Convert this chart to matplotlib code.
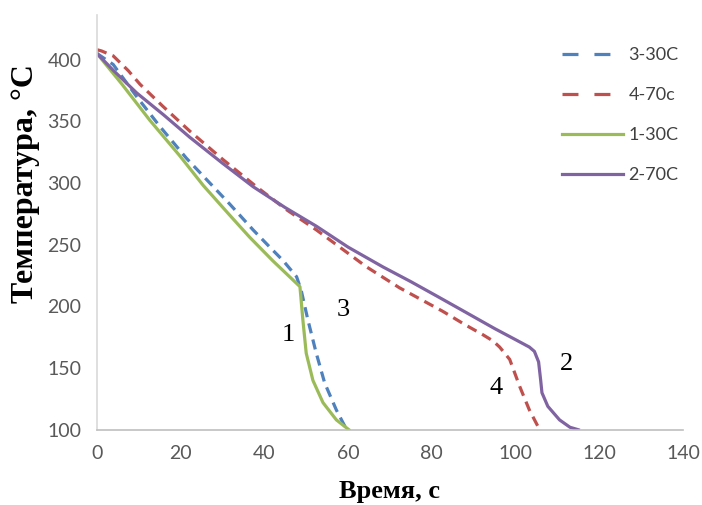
import numpy as np
import matplotlib
matplotlib.use("Agg")
import matplotlib.pyplot as plt

# curve data (time, s ; temperature, C)
t_blue = [0, 3.9, 9.5, 15, 21.4, 27.8, 31.7, 37.3, 41.3, 44.5, 47.7, 48.8, 50.4, 52.4, 54.4, 57.2, 59.2, 59.5]
T_blue = [405, 396, 370, 346, 320, 297, 283, 262, 248, 237, 224, 213, 189, 162, 138, 116, 103, 100]

t_red = [0, 1.1, 3.9, 7.5, 10.3, 15.8, 22.2, 30.1, 38.1, 45, 52.4, 58, 64.4, 72.3, 82.6, 88,
         92.2, 94.6, 96.2, 98.6, 101, 103.3, 105.3, 105.6]
T_red = [408, 407, 403, 391, 380, 362, 342, 319, 297, 279, 262, 248, 232, 215, 196, 185,
         177, 172, 167, 157, 135, 116, 103, 100]

t_green = [0, 6, 12.6, 19.8, 25.4, 31.7, 36.5, 42, 48.5, 49.2, 50, 51.6, 54, 57.2, 60.2]
T_green = [405, 380, 351, 322, 298, 274, 256, 237, 216, 189, 162, 140, 122, 108, 100]

t_purple = [0, 4, 9.5, 16, 22.2, 30, 37.3, 45, 52.4, 60, 68.3, 75, 81.9, 88.2, 95, 100,
            103.3, 104.5, 105.5, 106, 106.3, 107.7, 110.5, 113, 115]
T_purple = [405, 391, 373, 355, 337, 316, 297, 280, 265, 248, 232, 220, 207, 195, 182, 173,
            167, 163.5, 155, 140, 130, 119, 108, 102, 100]

labels = ["3-30C", "4-70c", "1-30C", "2-70C"]
marks = ["1", "3", "4", "2"]
mark_x = [45.7, 58.8, 95.4, 112.1]
mark_y = [177, 197, 134, 153]

xticks = [0, 20, 40, 60, 80, 100, 120, 140]
yticks = [100, 150, 200, 250, 300, 350, 400]

fig = plt.figure(figsize=(7.02, 5.05), dpi=100)
ax = fig.add_axes([0.138, 0.149, 0.835, 0.821])

lw = 2.3
ax.plot(t_blue, T_blue, color='#4F81BD', lw=lw, dashes=(3.2, 2.0), label=labels[0])
ax.plot(t_red, T_red, color='#C0504D', lw=lw, dashes=(3.2, 2.0), label=labels[1])
ax.plot(t_green, T_green, color='#9BBB59', lw=lw, solid_joinstyle='round', label=labels[2])
ax.plot(t_purple, T_purple, color='#8064A2', lw=lw, solid_joinstyle='round', label=labels[3])

for m, x, y in zip(marks, mark_x, mark_y):
    ax.text(x, y, m, fontsize=19, family='Liberation Serif', ha='center', va='center')

ax.set_xlim(0, 140)
ax.set_ylim(100, 436)
ax.set_xticks(xticks)
ax.set_yticks(yticks)
ax.tick_params(length=0, labelsize=14, colors='#595959', pad=11)
for lab in ax.get_xticklabels() + ax.get_yticklabels():
    lab.set_family('Lato')

for s in ['top', 'right']:
    ax.spines[s].set_visible(False)
ax.spines['left'].set_color('#d9d9d9')
ax.spines['bottom'].set_color('#bfbfbf')
ax.spines['left'].set_linewidth(1.2)
ax.spines['bottom'].set_linewidth(1.2)

ax.set_xlabel('Время, с', fontsize=19, fontweight='bold', family='Liberation Serif', va='center')
ax.xaxis.set_label_coords(0.5, -0.149)
ax.set_ylabel('Температура, °C', fontsize=23, fontweight='bold', family='Liberation Serif', va='center')
ax.yaxis.set_label_coords(-0.121, 0.595)

leg = ax.legend(loc='upper left', bbox_to_anchor=(0.765, 0.962), frameon=False,
                handlelength=3.4, handletextpad=0.3, labelspacing=1.33,
                prop={'family': 'Lato', 'size': 13})
for txt in leg.get_texts():
    txt.set_color('#404040')
for h in leg.legend_handles[:2]:
    h.set_dashes((5.0, 5.0))

fig.savefig('out.png', dpi=100)
